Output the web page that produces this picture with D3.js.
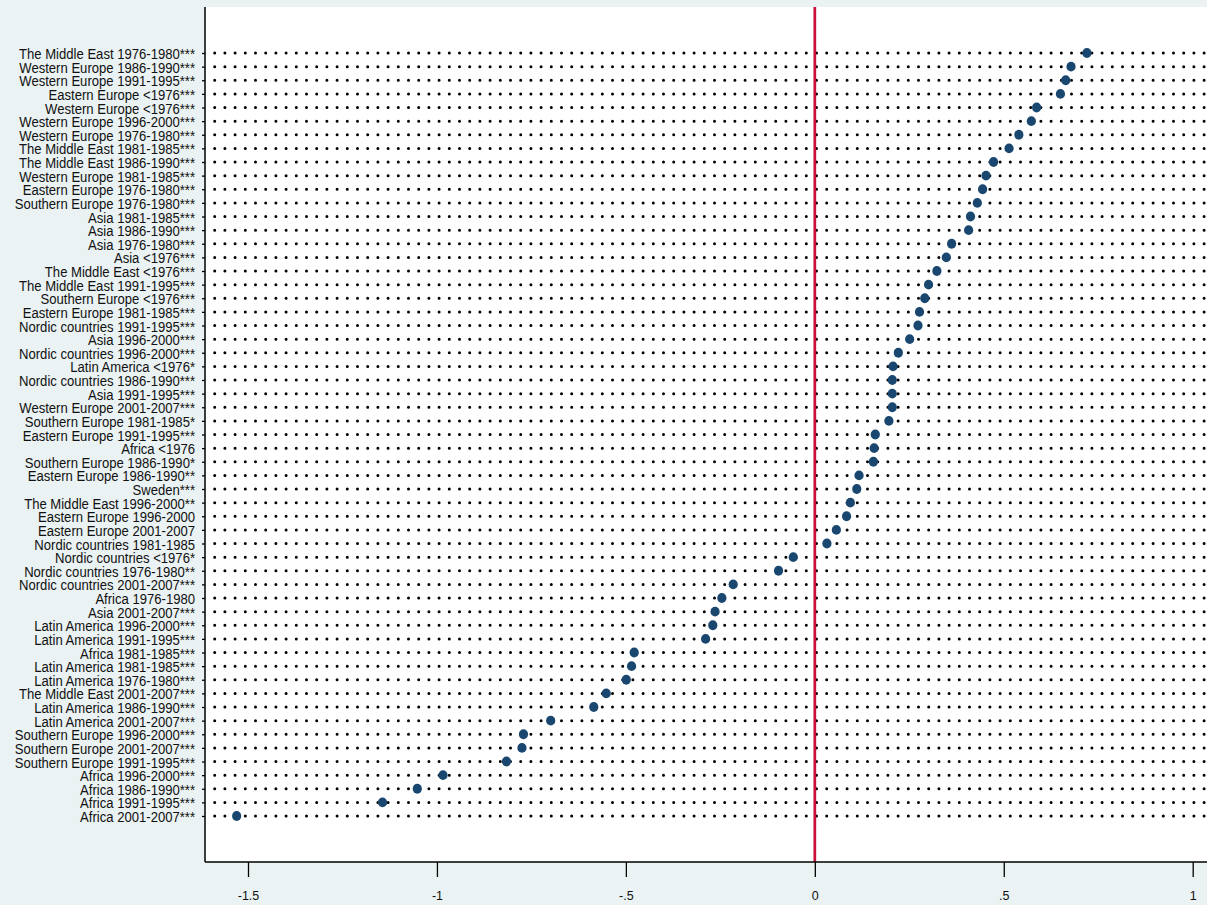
<!DOCTYPE html>
<html>
<head>
<meta charset="utf-8">
<script src="https://cdn.jsdelivr.net/npm/d3@7"></script>
<style>
  body { margin: 0; background: #eaf2f3; }
  svg { display: block; }
  text { font-family: "Liberation Sans", Arial, sans-serif; fill: #111; }
</style>
</head>
<body>
<svg id="chart" width="1207" height="905"></svg>
<script>
// group labels, top to bottom
const labels = [
  "The Middle East 1976-1980***", "Western Europe 1986-1990***", "Western Europe 1991-1995***",
  "Eastern Europe <1976***", "Western Europe <1976***", "Western Europe 1996-2000***",
  "Western Europe 1976-1980***", "The Middle East 1981-1985***", "The Middle East 1986-1990***",
  "Western Europe 1981-1985***", "Eastern Europe 1976-1980***", "Southern Europe 1976-1980***",
  "Asia 1981-1985***", "Asia 1986-1990***", "Asia 1976-1980***", "Asia <1976***",
  "The Middle East <1976***", "The Middle East 1991-1995***", "Southern Europe <1976***",
  "Eastern Europe 1981-1985***", "Nordic countries 1991-1995***", "Asia 1996-2000***",
  "Nordic countries 1996-2000***", "Latin America <1976*", "Nordic countries 1986-1990***",
  "Asia 1991-1995***", "Western Europe 2001-2007***", "Southern Europe 1981-1985*",
  "Eastern Europe 1991-1995***", "Africa <1976", "Southern Europe 1986-1990*",
  "Eastern Europe 1986-1990**", "Sweden***", "The Middle East 1996-2000**",
  "Eastern Europe 1996-2000", "Eastern Europe 2001-2007", "Nordic countries 1981-1985",
  "Nordic countries <1976*", "Nordic countries 1976-1980**", "Nordic countries 2001-2007***",
  "Africa 1976-1980", "Asia 2001-2007***", "Latin America 1996-2000***",
  "Latin America 1991-1995***", "Africa 1981-1985***", "Latin America 1981-1985***",
  "Latin America 1976-1980***", "The Middle East 2001-2007***", "Latin America 1986-1990***",
  "Latin America 2001-2007***", "Southern Europe 1996-2000***", "Southern Europe 2001-2007***",
  "Southern Europe 1991-1995***", "Africa 1996-2000***", "Africa 1986-1990***",
  "Africa 1991-1995***", "Africa 2001-2007***"
];

// estimated coefficients, same order
const values = [
  0.720, 0.678, 0.664, 0.650, 0.587, 0.573, 0.540, 0.514, 0.473,
  0.453, 0.444, 0.430, 0.412, 0.407, 0.362, 0.348, 0.323, 0.301,
  0.291, 0.277, 0.273, 0.251, 0.221, 0.207, 0.205, 0.205, 0.205,
  0.196, 0.160, 0.157, 0.155, 0.117, 0.111, 0.094, 0.084, 0.057,
  0.032, -0.057, -0.096, -0.216, -0.246, -0.264, -0.270, -0.289,
  -0.478, -0.485, -0.499, -0.552, -0.585, -0.699, -0.771, -0.775,
  -0.816, -0.984, -1.052, -1.144, -1.530
];

const tickValues = [-1.5, -1, -0.5, 0, 0.5, 1];
const tickLabels = ["-1.5", "-1", "-.5", "0", ".5", "1"];

const plot = {left: 205, right: 1215, top: 7, bottom: 862};

const svg = d3.select("#chart");

svg.append("rect")
   .attr("width", 1207).attr("height", 905)
   .attr("fill", "#eaf2f3");

svg.append("rect")
   .attr("x", plot.left).attr("y", plot.top)
   .attr("width", plot.right - plot.left)
   .attr("height", plot.bottom - plot.top)
   .attr("fill", "#fff");

const x = d3.scaleLinear().domain([-1.5, 1]).range([248, 1192.7]);
const y = d3.scalePoint().domain(labels).range([53, 816]);

// dotted guide lines
svg.append("g")
   .selectAll("line")
   .data(labels)
   .join("line")
   .attr("x1", plot.left + 9.7)
   .attr("x2", plot.right)
   .attr("y1", d => y(d))
   .attr("y2", d => y(d))
   .attr("stroke", "#000")
   .attr("stroke-width", 3)
   .attr("stroke-linecap", "round")
   .attr("stroke-dasharray", "0 10.2");

// zero line
svg.append("line")
   .attr("x1", x(0)).attr("x2", x(0))
   .attr("y1", plot.top).attr("y2", plot.bottom)
   .attr("stroke", "#c8103a")
   .attr("stroke-width", 2.7);

// markers
svg.append("g")
   .selectAll("ellipse")
   .data(values)
   .join("ellipse")
   .attr("cx", d => x(d))
   .attr("cy", (d, i) => y(labels[i]))
   .attr("rx", 4.6)
   .attr("ry", 4.9)
   .attr("fill", "#1a476f");

// y axis
const textScale = 0.845;
const yAxis = svg.append("g")
   .attr("transform", `translate(${plot.left},0)`)
   .call(d3.axisLeft(y).tickSize(3).tickSizeOuter(0));
yAxis.select(".domain").remove();
yAxis.selectAll(".tick line").attr("stroke", "#000").attr("stroke-width", 1.3);
yAxis.selectAll(".tick text")
     .attr("font-size", 15.5)
     .attr("font-family", "Liberation Sans, Arial, sans-serif")
     .attr("fill", "#111")
     .attr("x", -10 / textScale)
     .attr("dy", "0.36em")
     .attr("transform", `scale(${textScale},1)`);

// x axis
const xAxis = svg.append("g")
   .attr("transform", `translate(0,${plot.bottom})`)
   .call(d3.axisBottom(x)
     .tickValues(tickValues)
     .tickFormat((d, i) => tickLabels[i])
     .tickSize(15)
     .tickSizeOuter(0)
     .tickPadding(14.5));
xAxis.select(".domain").remove();
xAxis.selectAll(".tick line").attr("stroke", "#000").attr("stroke-width", 1.3);
xAxis.selectAll(".tick text")
     .attr("font-size", 12.5)
     .attr("font-family", "Liberation Sans, Arial, sans-serif")
     .attr("fill", "#111");

// axis lines on plot edges
svg.append("line")
   .attr("x1", plot.left).attr("x2", plot.left)
   .attr("y1", plot.top).attr("y2", plot.bottom)
   .attr("stroke", "#000").attr("stroke-width", 1.5);
svg.append("line")
   .attr("x1", plot.left).attr("x2", plot.right)
   .attr("y1", plot.bottom).attr("y2", plot.bottom)
   .attr("stroke", "#000").attr("stroke-width", 1.5);
</script>
</body>
</html>
